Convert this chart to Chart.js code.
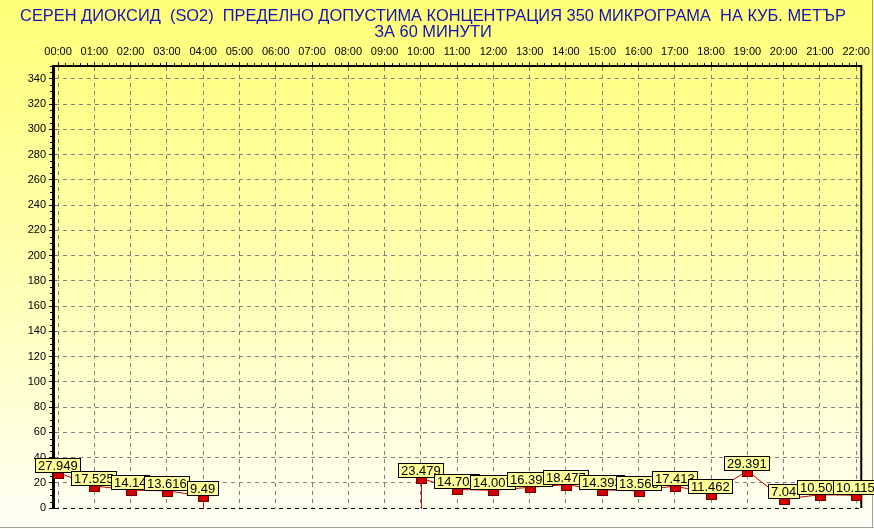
<!DOCTYPE html>
<html>
<head>
<meta charset="utf-8">
<script src="https://cdn.jsdelivr.net/npm/chart.js@4.4.0/dist/chart.umd.min.js"></script>
<style>
  html, body { margin: 0; padding: 0; background: #fff; }
  #wrap { width: 874px; height: 529px; }
</style>
</head>
<body>
<div id="wrap"><canvas id="grafico" width="874" height="529"></canvas></div>
<script>
// Datos del gráfico
const titulo = ["СЕРЕН ДИОКСИД  (SO2)  ПРЕДЕЛНО ДОПУСТИМА КОНЦЕНТРАЦИЯ 350 МИКРОГРАМА  НА КУБ. МЕТЪР", "ЗА 60 МИНУТИ"];
const horas = ["00:00", "01:00", "02:00", "03:00", "04:00", "05:00", "06:00", "07:00", "08:00", "09:00", "10:00",
  "11:00", "12:00", "13:00", "14:00", "15:00", "16:00", "17:00", "18:00", "19:00", "20:00", "21:00", "22:00"];
const valores = [27.949, 17.525, 14.14, 13.616, 9.49, null, null, null, null, null, 23.479,
  14.708, 14.007, 16.397, 18.477, 14.393, 13.568, 17.413, 11.462, 29.391, 7.04, 10.505, 10.115];
const etiquetas = ["27.949", "17.525", "14.14", "13.616", "9.49", null, null, null, null, null, "23.479",
  "14.708", "14.007", "16.397", "18.477", "14.393", "13.568", "17.413", "11.462", "29.391", "7.04", "10.505", "10.115"];
const yMax = 350;
const yPaso = 20;

const puntos = valores.map((v, i) => ({ x: i, y: v }));

// fondo degradado amarillo
const fondo = {
  id: "fondo",
  beforeDraw(chart) {
    const ctx = chart.ctx;
    const g = ctx.createLinearGradient(0, 0, 0, chart.height);
    g.addColorStop(0, "#ffff78");
    g.addColorStop(0.5, "#ffffb0");
    g.addColorStop(1, "#fffff6");
    ctx.save();
    ctx.fillStyle = g;
    ctx.fillRect(0, 0, chart.width, chart.height);
    ctx.strokeStyle = "#a0a0a0";
    ctx.lineWidth = 1;
    ctx.beginPath();
    ctx.moveTo(0, 527.5);
    ctx.lineTo(chart.width, 527.5);
    ctx.moveTo(872.5, 0);
    ctx.lineTo(872.5, 528);
    ctx.stroke();
    ctx.restore();
  }
};

// marco, marcas menores, caídas, marcadores y etiquetas
const extras = {
  id: "extras",
  afterDraw(chart) {
    const ctx = chart.ctx;
    const a = chart.chartArea;
    const sx = chart.scales.x;
    const sy = chart.scales.y;
    ctx.save();
    // borde derecho
    ctx.strokeStyle = "#000";
    ctx.lineWidth = 2;
    ctx.beginPath();
    ctx.moveTo(a.right, a.top - 1);
    ctx.lineTo(a.right, a.bottom);
    ctx.stroke();
    // marcas menores
    ctx.lineWidth = 1;
    ctx.strokeStyle = "#000";
    ctx.beginPath();
    for (let i = 0; i < horas.length - 1; i++) {
      for (let k = 1; k < 5; k++) {
        const px = Math.round(sx.getPixelForValue(i + k / 5)) + 0.5;
        ctx.moveTo(px, a.top - 3);
        ctx.lineTo(px, a.top);
      }
    }
    for (let v = 0; v < yMax; v += yPaso) {
      for (let k = 1; k < 4; k++) {
        const py = Math.round(sy.getPixelForValue(v + k * yPaso / 4)) + 0.5;
        if (py < a.top) continue;
        ctx.moveTo(a.left - 3, py);
        ctx.lineTo(a.left, py);
      }
    }
    ctx.stroke();

    // caídas verticales en los bordes de los huecos
    ctx.strokeStyle = "#dd0000";
    ctx.lineWidth = 1;
    ctx.beginPath();
    valores.forEach((v, i) => {
      if (v === null) return;
      const antes = i > 0 && valores[i - 1] === null;
      const despues = i < valores.length - 1 && valores[i + 1] === null;
      if (antes || despues) {
        const px = Math.round(sx.getPixelForValue(i)) + 0.5;
        ctx.moveTo(px, sy.getPixelForValue(v));
        ctx.lineTo(px, a.bottom + 1);
      }
    });
    ctx.stroke();

    // marcadores
    valores.forEach((v, i) => {
      if (v === null) return;
      const px = Math.round(sx.getPixelForValue(i));
      const py = Math.round(sy.getPixelForValue(v));
      ctx.fillStyle = "#d40000";
      ctx.fillRect(px - 4, py, 9, 5);
      ctx.strokeStyle = "#700000";
      ctx.lineWidth = 1;
      ctx.strokeRect(px - 4.5, py - 0.5, 10, 6);
    });

    // etiquetas
    ctx.font = "13px Arial, 'Liberation Sans', sans-serif";
    ctx.textBaseline = "middle";
    ctx.textAlign = "left";
    etiquetas.forEach((t, i) => {
      if (t === null) return;
      const px = Math.round(sx.getPixelForValue(i));
      const py = Math.round(sy.getPixelForValue(valores[i]));
      const w = Math.ceil(ctx.measureText(t).width) + 6;
      const h = 15;
      const x0 = px - Math.round(w / 2);
      const y0 = py - h;
      ctx.fillStyle = "#ffff99";
      ctx.fillRect(x0, y0, w, h);
      ctx.strokeStyle = "#000";
      ctx.strokeRect(x0 + 0.5, y0 + 0.5, w - 1, h - 1);
      ctx.fillStyle = "#000";
      ctx.fillText(t, x0 + 3, y0 + h / 2 + 1);
    });
    ctx.restore();
  }
};

const ctx = document.getElementById("grafico");
const grafico = new Chart(ctx, {
  type: "line",
  data: {
    datasets: [{
      label: "SO2",
      data: puntos,
      borderColor: "#cc0000",
      borderWidth: 1,
      pointRadius: 0,
      spanGaps: false,
      tension: 0
    }]
  },
  options: {
    responsive: false,
    animation: false,
    devicePixelRatio: 1,
    layout: { padding: { left: 0, right: 8, top: 0, bottom: 21 } },
    plugins: {
      legend: { display: false },
      tooltip: { enabled: false },
      title: {
        display: true,
        text: titulo,
        color: "#1414b4",
        font: { family: "'Liberation Sans Narrow', 'Arial Narrow', Arial, sans-serif", size: 16.4, weight: "normal", lineHeight: 0.98 },
        padding: { top: 8, bottom: 0 }
      }
    },
    scales: {
      x: {
        type: "linear",
        position: "top",
        min: -0.14,
        max: horas.length - 1 + 0.14,
        afterBuildTicks: (s) => { s.ticks = horas.map((h, i) => ({ value: i })); },
        afterFit: (s) => { s.height = 26; },
        ticks: {
          autoSkip: false,
          maxRotation: 0,
          padding: 4,
          color: "#000",
          font: { family: "Arial, 'Liberation Sans', sans-serif", size: 11 },
          callback: (v) => horas[v]
        },
        grid: {
          color: "#808080",
          lineWidth: 1,
          tickLength: 4,
          tickColor: "#000",
          tickBorderDash: []
        },
        border: { display: true, color: "#000", width: 2, dash: [4, 4] }
      },
      y: {
        min: 0,
        max: yMax,
        afterFit: (s) => { s.width = 53; },
        ticks: {
          stepSize: yPaso,
          includeBounds: false,
          padding: 3,
          color: "#000",
          font: { family: "Arial, 'Liberation Sans', sans-serif", size: 11 }
        },
        grid: {
          color: (c) => (c.tick && c.tick.value === 0 ? "#000" : "#808080"),
          lineWidth: 1,
          tickLength: 4,
          tickColor: "#000",
          tickBorderDash: []
        },
        border: { display: true, color: "#000", width: 3, dash: [4, 4] }
      }
    }
  },
  plugins: [fondo, extras]
});
</script>
</body>
</html>
